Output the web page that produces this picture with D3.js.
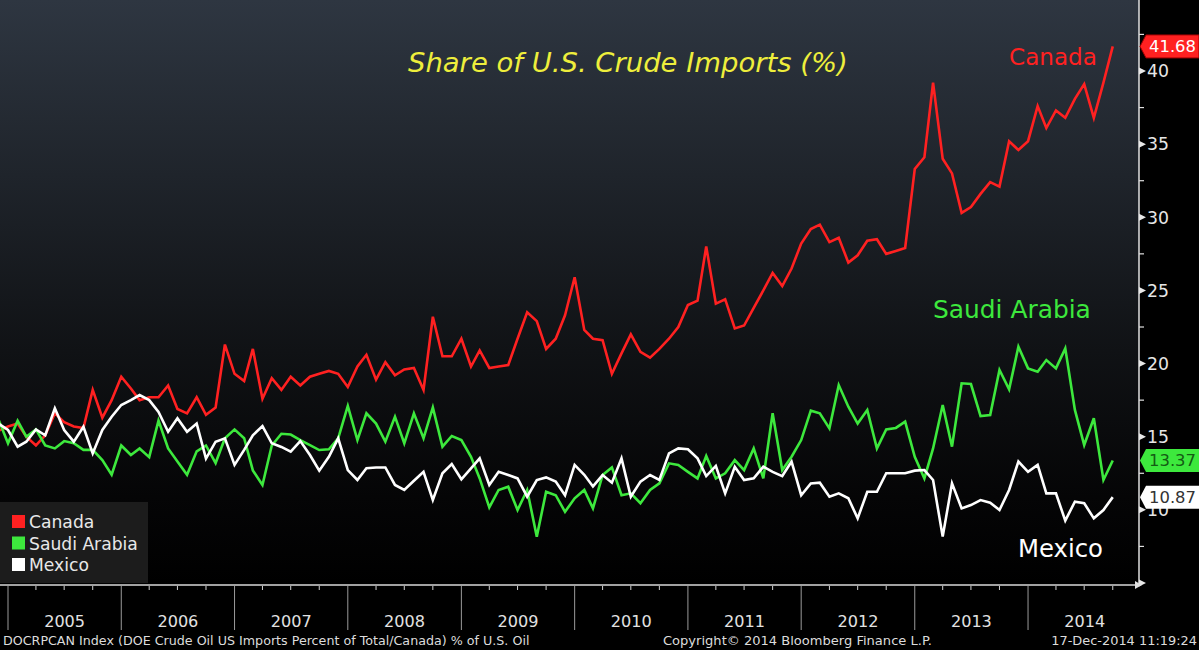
<!DOCTYPE html>
<html>
<head>
<meta charset="utf-8">
<script src="https://cdn.jsdelivr.net/npm/d3@7"></script>
<style>
  html, body { margin: 0; padding: 0; background: #000; overflow: hidden; }
  svg { display: block; }
  text { font-family: "DejaVu Sans", Verdana, sans-serif; }
</style>
</head>
<body>
<svg id="chart" width="1199" height="650"></svg>
<script>
// ---------------- DATA ----------------
// Monthly observations, Nov 2004 .. Sep 2014 (plotted at month end)
const startMonth = "2004-11";
const seriesNames = ["Canada", "Saudi Arabia", "Mexico"];
const canada = [15.4,
  15.7,15.9,15.0,14.4,15.1,16.6,16.0,15.7,15.6,18.2,16.3,17.5,
  19.1,18.3,17.5,17.7,17.7,18.5,16.9,16.6,17.7,16.5,17.0,21.3,
  19.3,18.8,21.0,17.6,19.0,18.2,19.1,18.5,19.1,19.3,19.5,19.3,
  18.4,19.8,20.6,18.9,20.1,19.2,19.6,19.7,18.2,23.2,20.5,20.5,
  21.7,19.8,20.9,19.7,19.8,19.9,21.7,23.5,22.9,21.0,21.7,23.3,
  25.9,22.3,21.7,21.6,19.3,20.7,22.0,20.8,20.4,21.0,21.7,22.5,
  24.0,24.3,28.0,24.1,24.4,22.4,22.6,23.8,25.0,26.2,25.3,26.5,
  28.2,29.2,29.5,28.3,28.6,26.9,27.4,28.4,28.5,27.5,27.7,27.9,
  33.3,34.1,39.2,34.0,33.0,30.3,30.7,31.6,32.4,32.1,35.2,34.6,
  35.2,37.6,36.1,37.3,36.8,38.1,39.1,36.8,39.2,41.68];
const saudiArabia = [16.2,
  14.55,16.1,15.0,15.5,14.4,14.2,14.7,14.55,14.1,14.1,13.4,12.4,
  14.4,13.75,14.2,13.6,16.1,14.2,13.3,12.4,14.0,14.4,13.2,14.9,
  15.5,14.9,12.7,11.7,14.4,15.2,15.15,14.77,14.43,14.09,14.14,14.89,
  17.1,14.77,16.6,15.9,14.66,16.37,14.55,16.6,14.89,17.0,14.32,15.05,
  14.77,13.63,12.15,10.17,11.36,11.58,9.99,11.36,8.17,11.24,11.0,9.87,
  10.79,11.36,10.1,12.38,12.9,11.0,11.13,10.45,11.36,11.81,13.18,13.07,
  12.6,12.15,13.68,12.15,12.5,13.4,12.72,14.2,12.15,16.6,12.72,13.63,
  14.77,16.78,16.6,15.57,18.53,17.05,15.9,16.83,14.2,15.5,15.6,16.03,
  13.63,12.15,14.2,17.17,14.32,18.65,18.6,16.41,16.48,19.56,18.24,21.15,
  19.67,19.44,20.24,19.67,21.04,16.83,14.43,16.26,12.04,13.37];
const mexico = [15.9,
  15.46,14.32,14.66,15.5,15.1,16.94,15.46,14.66,15.68,13.86,15.46,16.37,
  17.17,17.5,17.85,17.5,16.7,15.34,16.26,15.34,15.9,13.5,14.66,14.89,
  13.07,14.1,15.1,15.73,14.55,14.3,13.98,14.7,13.75,12.68,13.63,14.89,
  12.72,12.04,12.84,12.9,12.9,11.7,11.36,11.99,12.6,10.67,12.5,13.13,
  12.09,12.84,13.52,11.7,12.6,12.38,12.15,10.9,12.04,12.22,11.93,11.0,
  13.07,12.4,11.6,12.38,11.86,13.52,10.9,11.93,12.38,12.04,13.86,14.2,
  14.14,13.52,12.31,13.0,11.13,12.95,12.04,12.15,12.95,12.6,12.31,13.3,
  11.0,11.81,11.86,10.9,11.13,10.79,9.42,11.24,11.24,12.5,12.5,12.5,
  12.68,12.72,12.04,8.17,11.81,10.1,10.33,10.67,10.49,9.99,11.36,13.3,
  12.6,13.07,11.13,11.13,9.26,10.56,10.45,9.42,9.99,10.87];
const lastLabels = ["41.68", "13.37", "10.87"];
const yTickValues = [5,10,15,20,25,30,35,40];
const yTickLabels = ["", "10", "15", "20", "25", "30", "35", "40"];
const yMinorValues = [7.5,12.5,17.5,22.5,27.5,32.5,37.5,42.5];
const yearLabels = ["2005","2006","2007","2008","2009","2010","2011","2012","2013","2014"];
const titleText = "Share of U.S. Crude Imports (%)";
const footerLeft = "DOCRPCAN Index (DOE Crude Oil US Imports Percent of Total/Canada) % of U.S. Oil";
const footerMid = "Copyright\u00A9 2014 Bloomberg Finance L.P.";
const footerRight = "17-Dec-2014 11:19:24";

// ---------------- STYLE / LAYOUT ----------------
const colors = ["#ff2121", "#3de83d", "#ffffff"];
const boxText = ["#ffffff", "#145c14", "#333333"];
const W = 1199, H = 650;
const plotRight = 1139, plotBottom = 585;

const svg = d3.select("#chart");
const parseM = d3.timeParse("%Y-%m");
const m0 = parseM(startMonth);
// point date = first day of following month (≈ month end)
const dates = canada.map((_, i) => d3.timeMonth.offset(m0, i + 1));

const x = d3.scaleTime()
  .domain([new Date(2005, 0, 1), new Date(2015, 0, 1)])
  .range([8, 1141.3]);
const y = d3.scaleLinear().domain([5, 40]).range([583, 71]);

function fit(sel, target) {
  const w = sel.node().getComputedTextLength();
  const fs = parseFloat(sel.attr("font-size"));
  const nfs = fs * target / w;
  sel.attr("font-size", nfs);
  return nfs;
}

// background
svg.append("rect").attr("width", W).attr("height", H).attr("fill", "#000");
const defs = svg.append("defs");
const grad = defs.append("linearGradient").attr("id", "bg")
  .attr("x1", 0).attr("y1", 0).attr("x2", 0).attr("y2", 1);
[[0, "#2e3641"], [0.3, "#1f242b"], [0.6, "#101215"], [0.85, "#050506"], [1, "#000"]]
  .forEach(([o, c]) => grad.append("stop").attr("offset", o).attr("stop-color", c));
svg.append("rect").attr("x", 0).attr("y", 0).attr("width", plotRight).attr("height", plotBottom)
  .attr("fill", "url(#bg)");
defs.append("clipPath").attr("id", "clip").append("rect")
  .attr("x", 0).attr("y", 0).attr("width", plotRight).attr("height", plotBottom);

// lines
const allSeries = [canada, saudiArabia, mexico];
const line = d3.line().x((d, i) => x(dates[i])).y(d => y(d));
const gLines = svg.append("g").attr("clip-path", "url(#clip)");
allSeries.forEach((s, i) => {
  gLines.append("path").datum(s)
    .attr("d", line)
    .attr("fill", "none")
    .attr("stroke", colors[i])
    .attr("stroke-width", 2.6)
    .attr("stroke-linejoin", "miter");
});

// title
const title = svg.append("text").text(titleText)
  .attr("x", 408).attr("y", 72)
  .attr("font-size", 26).attr("font-style", "italic")
  .attr("fill", "#eeee3c");
fit(title, 440);

// series labels
const lbl = [
  {t: "Canada", x: 1009, y: 65, w: 88, c: colors[0]},
  {t: "Saudi Arabia", x: 933, y: 318, w: 158, c: colors[1]},
  {t: "Mexico", x: 1018, y: 557, w: 85, c: colors[2]}
];
lbl.forEach(l => {
  const t = svg.append("text").text(l.t).attr("x", l.x).attr("y", l.y)
    .attr("font-size", 24).attr("fill", l.c);
  fit(t, l.w);
});

// legend
const lg = svg.append("g");
lg.append("rect").attr("x", 0).attr("y", 502).attr("width", 148).attr("height", 81)
  .attr("fill", "#1c1c1c");
const probe = lg.append("text").text(seriesNames[1]).attr("x", 29).attr("y", 550)
  .attr("font-size", 18).attr("fill", "#e8e8e8");
const lfs = fit(probe, 109);
probe.remove();
seriesNames.forEach((n, i) => {
  const yy = 515 + i * 21.5;
  lg.append("rect").attr("x", 12).attr("y", yy).attr("width", 13).attr("height", 13)
    .attr("fill", colors[i]);
  lg.append("text").text(n).attr("x", 29).attr("y", yy + 13)
    .attr("font-size", lfs).attr("fill", "#e8e8e8");
});

// right axis
const ax = svg.append("g");
ax.append("line").attr("x1", plotRight).attr("x2", plotRight).attr("y1", 0).attr("y2", plotBottom)
  .attr("stroke", "#e0e0e0").attr("stroke-width", 1.5);
yTickValues.forEach(v => {
  const yy = y(v);
  ax.append("path").attr("d", `M${plotRight},${yy - 3.5}L${plotRight + 7},${yy}L${plotRight},${yy + 3.5}Z`)
    .attr("fill", "#e8e8e8");
});
yMinorValues.forEach(v => {
  ax.append("line").attr("x1", plotRight).attr("x2", plotRight + 5)
    .attr("y1", y(v)).attr("y2", y(v)).attr("stroke", "#e0e0e0").attr("stroke-width", 1.2);
});
const p2 = ax.append("text").text("40").attr("font-size", 18);
const tfs = fit(p2, 22);
p2.remove();
yTickValues.forEach((v, i) => {
  if (!yTickLabels[i]) return;
  ax.append("text").text(yTickLabels[i]).attr("x", plotRight + 8).attr("y", y(v))
    .attr("dy", "0.36em").attr("font-size", tfs).attr("fill", "#e6e6e6");
});

// last value boxes
allSeries.forEach((s, i) => {
  const cy = y(s[s.length - 1]);
  ax.append("path")
    .attr("d", `M${plotRight + 1},${cy}L${plotRight + 7},${cy - 11.5}L${W},${cy - 11.5}L${W},${cy + 11.5}L${plotRight + 7},${cy + 11.5}Z`)
    .attr("fill", colors[i] === "#ffffff" ? "#ffffff" : colors[i])
    .attr("stroke", i === 0 ? "#a00000" : "none").attr("stroke-width", 1);
  const t = ax.append("text").text(lastLabels[i]).attr("x", plotRight + 10).attr("y", cy)
    .attr("dy", "0.36em").attr("font-size", 18).attr("fill", boxText[i]);
  fit(t, 47);
});

// x axis
const xa = svg.append("g");
xa.append("line").attr("x1", 0).attr("x2", plotRight).attr("y1", plotBottom).attr("y2", plotBottom)
  .attr("stroke", "#d8d8d8").attr("stroke-width", 1.5);
xa.append("path").attr("d", `M${plotRight - 4},${plotBottom - 4}L${plotRight + 3},${plotBottom}L${plotRight - 4},${plotBottom + 4}Z`)
  .attr("fill", "#e0e0e0");
const years = yearLabels.map(s => new Date(+s, 0, 1));
years.forEach(d => {
  xa.append("line").attr("x1", x(d)).attr("x2", x(d)).attr("y1", plotBottom + 1).attr("y2", 630)
    .attr("stroke", "#9a9a9a").attr("stroke-width", 1);
});
const quarters = d3.timeMonth.every(3).range(new Date(2005, 0, 1), new Date(2015, 0, 1))
  .filter(d => d.getMonth() !== 0);
quarters.forEach(d => {
  xa.append("line").attr("x1", x(d)).attr("x2", x(d)).attr("y1", plotBottom + 1).attr("y2", plotBottom + 5)
    .attr("stroke", "#d0d0d0").attr("stroke-width", 1);
});
const p3 = xa.append("text").text("2005").attr("font-size", 20);
const yfs = fit(p3, 41);
p3.remove();
yearLabels.forEach((s, i) => {
  const d0 = years[i], d1 = new Date(+s + 1, 0, 1);
  xa.append("text").text(s).attr("x", (x(d0) + x(d1)) / 2).attr("y", 627)
    .attr("text-anchor", "middle").attr("font-size", yfs).attr("fill", "#e2e2e2");
});

// footer
const f1 = svg.append("text").text(footerLeft).attr("x", 3).attr("y", 645)
  .attr("font-size", 13).attr("fill", "#dcdcdc");
fit(f1, 527);
const f2 = svg.append("text").text(footerMid).attr("x", 663).attr("y", 645)
  .attr("font-size", 13).attr("fill", "#dcdcdc");
fit(f2, 269);
const f3 = svg.append("text").text(footerRight).attr("x", 1197).attr("y", 645)
  .attr("text-anchor", "end").attr("font-size", 13).attr("fill", "#dcdcdc");
fit(f3, 146);
</script>
</body>
</html>
